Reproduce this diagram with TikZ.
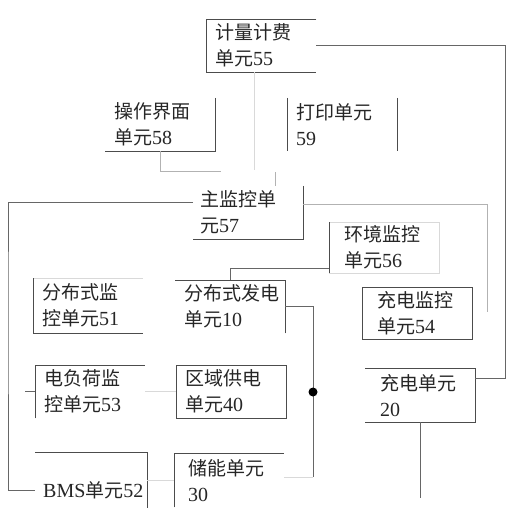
\documentclass[tikz,border=0pt]{standalone}
\usepackage{fontspec}
\setmainfont{Liberation Serif}
\newfontfamily\cjk[Scale=0.95]{Noto Sans CJK SC}
\usepackage{tikz}
\usetikzlibrary{calc}
\newcommand{\zh}[1]{{\cjk #1}}% Chinese text inside a unit

\begin{document}
\begin{tikzpicture}[x=1pt,y=-1pt,
    unit/.style={anchor=north west,minimum width=110pt,minimum height=53pt,
      inner xsep=9pt,inner ysep=0pt,text width=92pt,align=left,
      font=\fontsize{20}{26}\selectfont,text=black!85},
    wide/.style={inner xsep=15pt,text width=80pt},
    edge/.style={draw=black!70,line width=0.8pt},
    wire/.style={draw=black!60,line width=0.8pt},
    pale/.style={draw=black!30,line width=0.8pt},
    faint/.style={draw=black!15,line width=0.8pt}]
  \useasboundingbox (0,0) rectangle (517,508);

  % units
  \node[unit] (u55) at (206,19) {\zh{计量计费}\\\zh{单元}55};
  \node[unit] (u58) at (105,98) {\zh{操作界面}\\\zh{单元}58};
  \node[unit,inner xsep=8pt,text width=92pt] (u59) at (287,98) {\zh{打印单元}\\59};
  \node[unit,inner xsep=7pt,text width=96pt] (u57) at (193,186) {\zh{主监控单}\\\zh{元}57};
  \node[unit,wide,minimum height=51pt] (u56) at (329,222) {\zh{环境监控}\\\zh{单元}56};
  \node[unit,inner xsep=9pt,text width=92pt] (u10) at (175,280) {\zh{分布式发电}\\\zh{单元}10};
  \node[unit,minimum height=55pt] (u51) at (33,278) {\zh{分布式监}\\\zh{控单元}51};
  \node[unit,wide,minimum height=52pt] (u54) at (362,287) {\zh{充电监控}\\\zh{单元}54};
  \node[unit,inner xsep=8pt,text width=92pt] (u53) at (35,365) {\zh{电负荷监}\\\zh{控单元}53};
  \node[unit] (u40) at (176,365) {\zh{区域供电}\\\zh{单元}40};
  \node[unit,wide,minimum height=54pt] (u20) at (365,368) {\zh{充电单元}\\20};
  \node[unit,inner xsep=8pt,text width=96pt,minimum height=76pt] (u52) at (35,452) {BMS\zh{单元}52};
  \node[unit,inner xsep=14pt,text width=82pt,minimum height=54pt] (u30) at (174,453) {\zh{储能单元}\\30};

  % visible box edges
  \draw[edge] (u55.north east) -- (u55.north west) -- (u55.south west) -- (u55.south east);
  \draw[edge] (u58.north east) -- (u58.south east) -- (u58.south west);
  \draw[edge] (u59.north west) -- (u59.south west) (u59.north east) -- (u59.south east);
  \draw[edge] (u57.north east) -- (u57.south east) -- (u57.south west);
  \draw[faint] (u56.north west) -- (u56.north east) -- (u56.south east) -- (u56.south west);
  \draw[edge] (u56.north west) -- (u56.south west);
  \draw[edge] (u10.south east) -- (u10.north east) -- (u10.north west);
  \draw[faint] (u51.north west) -- (u51.north east);
  \draw[edge] (u51.north west) -- (u51.south west) -- (u51.south east);
  \draw[edge] (u54.north west) rectangle (u54.south east);
  \draw[edge] (u53.south west) -- (u53.north west) -- (u53.north east);
  \draw[edge] (u40.north west) rectangle (u40.south east);
  \draw[edge] (u20.north west) -- (u20.north east) -- (u20.south east) -- (u20.south west);
  \draw[edge] (u52.north west) -- (u52.north east) -- (u52.south east);
  \draw[edge] (u30.south west) -- (u30.north west) -- (u30.north east);

  % connections
  \coordinate (j1) at (505,378);
  \coordinate (j2) at (487,312);
  \coordinate (lbus) at (8,300);
  \coordinate (bus) at (313,477);
  \draw[wire] (u55.east) -| (j1) -- (u20.north east |- j1);
  \draw[wire] ([yshift=10pt]u57.west) -| (lbus) |- (u52.west);
  \draw[wire] (u53.west) -- ++(-10,0);
  \draw[pale] ([yshift=8pt]u57.east) -| (j2);
  \draw[wire] ([yshift=5pt]u56.south west) -| (u10.north);
  \draw[wire] (u10.east) -| (bus);
  \draw[faint] (bus) -- (bus -| u30.east);
  \node[circle,fill=black,inner sep=0pt,minimum size=9pt] (jn) at (313,392) {};
  \draw[wire] (u20.south) -- ++(0,76);
  \draw[faint] (u53.east) -- (u40.west);
  \draw[faint] (u30.west) -- (u30.west -| u52.east);
  \draw[faint] ([xshift=-7pt]u55.south) -- ++(0,98);
  \draw[pale] ([xshift=27pt]u57.north) -- ++(0,-14);
  \draw[pale] (u58.south) -- ++(0,20) -- ++(61,0);
\end{tikzpicture}
\end{document}
